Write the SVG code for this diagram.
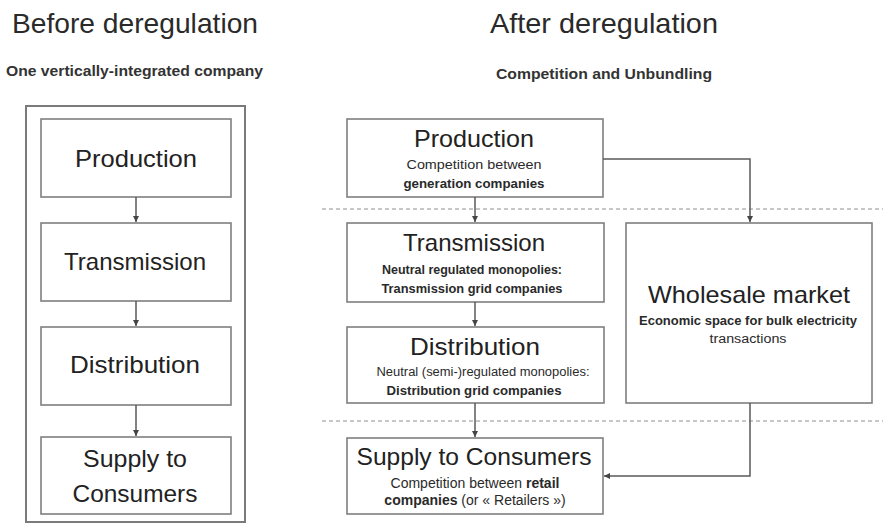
<svg xmlns="http://www.w3.org/2000/svg" width="883" height="526" viewBox="0 0 883 526">
  <style>
    .bg { fill: #ffffff; }
    .frame { fill: none; stroke: #7a7a7a; stroke-width: 2; }
    .box { fill: #ffffff; stroke: #7f7f7f; stroke-width: 1.6; }
    .head { font-family: "Liberation Sans", Arial, sans-serif; font-size: 28px; fill: #2a2a2a; }
    .sub { font-family: "Liberation Sans", Arial, sans-serif; font-size: 14px; font-weight: bold; fill: #333333; }
    .title { font-family: "Liberation Sans", Arial, sans-serif; font-size: 24px; fill: #222222; text-anchor: middle; }
    .note { font-family: "Liberation Sans", Arial, sans-serif; font-size: 12.5px; fill: #2a2a2a; text-anchor: middle; }
    .wide { font-size: 14px; }
    .b { font-weight: bold; }
    .wire { fill: none; stroke: #5a5a5a; stroke-width: 1.5; }
    .sep { fill: none; stroke: #b5b5b5; stroke-width: 1.3; stroke-dasharray: 4 3; }
  </style>
  <defs>
    <marker id="arrow" viewBox="0 0 10 10" refX="10" refY="5" markerWidth="4" markerHeight="4" orient="auto" markerUnits="strokeWidth">
      <path d="M0,0 L10,5 L0,10 Z" fill="#444444"/>
    </marker>
  </defs>

  <rect class="bg" x="0" y="0" width="883" height="526"/>

  <!-- Headings -->
  <g id="heading-before">
    <text class="head" x="12" y="33" textLength="246" lengthAdjust="spacingAndGlyphs">Before deregulation</text>
    <text class="sub" x="6" y="76" textLength="257" lengthAdjust="spacingAndGlyphs">One vertically-integrated company</text>
  </g>
  <g id="heading-after">
    <text class="head" x="490" y="33" textLength="228" lengthAdjust="spacingAndGlyphs">After deregulation</text>
    <text class="sub" x="496" y="79" textLength="216" lengthAdjust="spacingAndGlyphs">Competition and Unbundling</text>
  </g>

  <!-- Separators between market segments -->
  <g id="separators">
    <line class="sep" x1="322" y1="209" x2="883" y2="209"/>
    <line class="sep" x1="322" y1="421" x2="883" y2="421"/>
  </g>

  <!-- Integrated company -->
  <g id="integrated-company">
    <rect class="frame" x="26" y="106" width="219" height="416"/>
  </g>
  <g id="left-production">
    <rect class="box" x="41" y="119" width="190" height="78"/>
    <text class="title" x="136" y="167" textLength="122" lengthAdjust="spacingAndGlyphs">Production</text>
  </g>
  <g id="left-transmission">
    <rect class="box" x="41" y="223" width="190" height="78"/>
    <text class="title" x="135" y="270" textLength="142" lengthAdjust="spacingAndGlyphs">Transmission</text>
  </g>
  <g id="left-distribution">
    <rect class="box" x="41" y="327" width="190" height="78"/>
    <text class="title" x="135" y="373" textLength="130" lengthAdjust="spacingAndGlyphs">Distribution</text>
  </g>
  <g id="left-supply">
    <rect class="box" x="41" y="437" width="190" height="77"/>
    <text class="title" x="135" y="467" textLength="104" lengthAdjust="spacingAndGlyphs">Supply to</text>
    <text class="title" x="135" y="502" textLength="125" lengthAdjust="spacingAndGlyphs">Consumers</text>
  </g>

  <!-- Unbundled chain -->
  <g id="production">
    <rect class="box" x="347" y="119" width="256" height="78"/>
    <text class="title" x="474" y="147" textLength="120" lengthAdjust="spacingAndGlyphs">Production</text>
    <text class="note" x="474" y="169" textLength="135" lengthAdjust="spacingAndGlyphs">Competition between</text>
    <text class="note b" x="474" y="188" textLength="141" lengthAdjust="spacingAndGlyphs">generation companies</text>
  </g>
  <g id="transmission">
    <rect class="box" x="347" y="223" width="257" height="79"/>
    <text class="title" x="474" y="251" textLength="142" lengthAdjust="spacingAndGlyphs">Transmission</text>
    <text class="note b" x="472" y="274" textLength="180" lengthAdjust="spacingAndGlyphs">Neutral regulated monopolies:</text>
    <text class="note b" x="472" y="293" textLength="181" lengthAdjust="spacingAndGlyphs">Transmission grid companies</text>
  </g>
  <g id="distribution">
    <rect class="box" x="347" y="327" width="257" height="76"/>
    <text class="title" x="475" y="355" textLength="130" lengthAdjust="spacingAndGlyphs">Distribution</text>
    <text class="note" x="483" y="376" textLength="213" lengthAdjust="spacingAndGlyphs">Neutral (semi-)regulated monopolies:</text>
    <text class="note b" x="474" y="395" textLength="175" lengthAdjust="spacingAndGlyphs">Distribution grid companies</text>
  </g>
  <g id="supply">
    <rect class="box" x="347" y="438" width="256" height="76"/>
    <text class="title" x="474" y="465" textLength="235" lengthAdjust="spacingAndGlyphs">Supply to Consumers</text>
    <text class="note wide" x="475" y="488">Competition between <tspan class="b">retail</tspan></text>
    <text class="note wide" x="475" y="505"><tspan class="b">companies</tspan> (or « Retailers »)</text>
  </g>
  <g id="wholesale-market">
    <rect class="box" x="626" y="223" width="246" height="180"/>
    <text class="title" x="749" y="303" textLength="202" lengthAdjust="spacingAndGlyphs">Wholesale market</text>
    <text class="note b" x="748" y="325" textLength="218" lengthAdjust="spacingAndGlyphs">Economic space for bulk electricity</text>
    <text class="note" x="748" y="343" textLength="77" lengthAdjust="spacingAndGlyphs">transactions</text>
  </g>

  <!-- Connectors -->
  <g id="connectors">
    <line class="wire" x1="136" y1="197" x2="136" y2="222" marker-end="url(#arrow)"/>
    <line class="wire" x1="136" y1="301" x2="136" y2="326" marker-end="url(#arrow)"/>
    <line class="wire" x1="136" y1="405" x2="136" y2="436" marker-end="url(#arrow)"/>

    <line class="wire" x1="475" y1="197" x2="475" y2="222" marker-end="url(#arrow)"/>
    <line class="wire" x1="475" y1="302" x2="475" y2="326" marker-end="url(#arrow)"/>
    <line class="wire" x1="475" y1="403" x2="475" y2="437" marker-end="url(#arrow)"/>

    <path class="wire" d="M603,159 H750 V222" marker-end="url(#arrow)"/>
    <path class="wire" d="M750,403 V476 H604" marker-end="url(#arrow)"/>
  </g>
</svg>
